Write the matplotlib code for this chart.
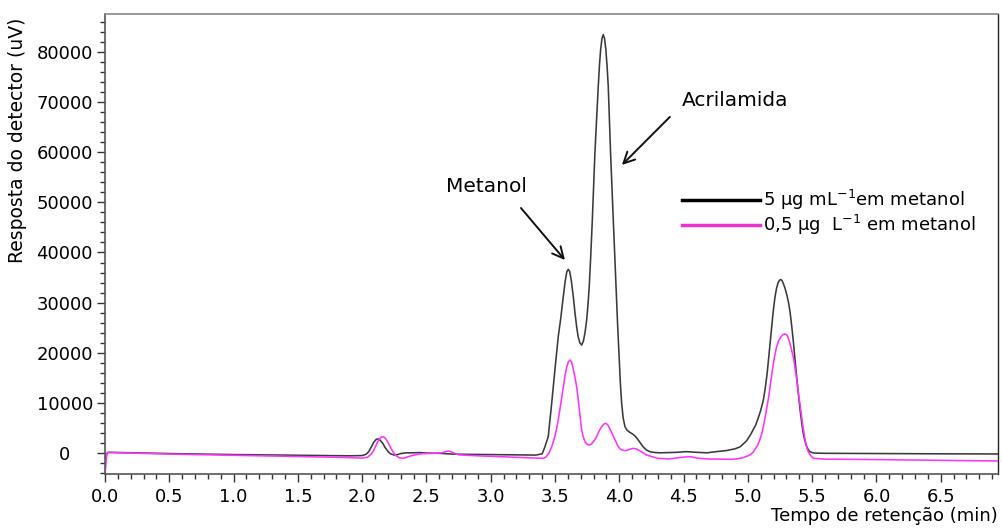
import matplotlib
matplotlib.use("Agg")
import matplotlib.pyplot as plt
from matplotlib.lines import Line2D
from matplotlib.ticker import MultipleLocator

plt.rcParams['font.family'] = ['DejaVu Sans']
plt.rcParams['mathtext.fontset'] = 'dejavusans'
plt.rcParams['mathtext.default'] = 'regular'

# Black trace: 5 µg mL-1 em metanol
t_black = [0.0, 0.02, 0.03, 0.5, 1.0, 1.5, 1.9, 2.0, 2.03, 2.05, 2.07, 2.09, 2.11, 2.125,
           2.14, 2.16, 2.18, 2.20, 2.22, 2.25, 2.27, 2.30, 2.34, 2.40, 2.45, 2.50, 2.60,
           2.70, 2.80, 3.0, 3.2, 3.35, 3.40, 3.42, 3.447, 3.474, 3.499, 3.525, 3.545,
           3.564, 3.58, 3.592, 3.603, 3.614, 3.626, 3.642, 3.655, 3.668, 3.68, 3.693,
           3.707, 3.72, 3.733, 3.746, 3.756, 3.766, 3.778, 3.79, 3.80, 3.81, 3.823,
           3.836, 3.846, 3.855, 3.865, 3.875, 3.885, 3.895, 3.905, 3.914, 3.923, 3.932,
           3.943, 3.953, 3.964, 3.974, 3.986, 3.997, 4.008, 4.018, 4.03, 4.044, 4.06,
           4.08, 4.10, 4.12, 4.14, 4.16, 4.185, 4.21, 4.24, 4.28, 4.32, 4.45, 4.52,
           4.60, 4.68, 4.76, 4.834, 4.90, 4.94, 4.99, 5.02, 5.04, 5.06, 5.08, 5.10,
           5.12, 5.135, 5.15, 5.167, 5.184, 5.197, 5.21, 5.222, 5.235, 5.247, 5.257,
           5.268, 5.28, 5.292, 5.305, 5.316, 5.327, 5.34, 5.355, 5.367, 5.379, 5.392,
           5.405, 5.418, 5.43, 5.443, 5.455, 5.468, 5.482, 5.50, 5.52, 5.6, 6.0, 6.5,
           6.95]
y_black = [-1000, 150, 200, -50, -250, -400, -500, -450, -200, 300, 1200, 2200, 2800, 2850,
           2600, 2000, 1100, 400, -100, -350, -300, -50, 100, 100, 150, 50, 0,
           -150, -200, -250, -300, -350, -100, 1200, 3300, 9960, 16600, 23230, 27000,
           31200, 34500, 36200, 36650, 36200, 34500, 31200, 28000, 25200, 23200, 22000,
           21570, 22300, 24000, 26550, 29500, 33190, 39500, 46470, 53000, 59760, 66500,
           73030, 77500, 80500, 82600, 83400, 82600, 80500, 77000, 73030, 66500, 59760,
           53000, 46470, 39500, 33190, 26000, 19920, 14000, 9960, 7000, 5300, 4600,
           4200, 3900, 3500, 2900, 2200, 1300, 660, 300, 150, 100, 200, 330,
           200, 100, 350, 550, 900, 1300, 2500, 3700, 4640, 5600, 7000, 8600,
           10600, 13000, 16000, 20500, 25200, 28300, 31000, 32800, 34000, 34500, 34600,
           34300, 33500, 32600, 31300, 30000, 28300, 25500, 21800, 18500, 15250, 12000,
           8800, 6200, 4000, 2500, 1500, 800, 330, 150, 50, 0, -50, -100,
           -130]

# Pink trace: 0,5 µg L-1 em metanol
t_pink = [0.0, 0.015, 0.03, 0.5, 1.0, 1.5, 1.83, 2.0, 2.04, 2.07, 2.09, 2.11, 2.13, 2.15,
          2.165, 2.18, 2.20, 2.22, 2.24, 2.26, 2.29, 2.32, 2.38, 2.45, 2.55, 2.62, 2.65,
          2.67, 2.69, 2.71, 2.75, 2.9, 3.1, 3.3, 3.41, 3.43, 3.45, 3.474, 3.49, 3.50,
          3.513, 3.525, 3.545, 3.564, 3.578, 3.59, 3.603, 3.616, 3.628, 3.64, 3.654,
          3.668, 3.68, 3.69, 3.70, 3.707, 3.72, 3.735, 3.75, 3.766, 3.78, 3.795, 3.81,
          3.823, 3.84, 3.86, 3.878, 3.896, 3.912, 3.93, 3.948, 3.966, 3.98, 3.99, 4.005,
          4.018, 4.04, 4.06, 4.085, 4.11, 4.135, 4.16, 4.185, 4.21, 4.3, 4.39, 4.48,
          4.55, 4.62, 4.7, 4.886, 4.96, 5.015, 5.04, 5.06, 5.075, 5.09, 5.105, 5.12,
          5.14, 5.16, 5.175, 5.19, 5.205, 5.223, 5.24, 5.26, 5.277, 5.293, 5.307, 5.32,
          5.335, 5.352, 5.365, 5.378, 5.39, 5.404, 5.417, 5.43, 5.443, 5.456, 5.468,
          5.48, 5.495, 5.51, 5.6, 6.0, 6.5, 6.95]
y_pink = [-4100, 100, 150, -150, -400, -650, -800, -950, -800, -200, 600, 1700, 2700, 3250,
          3300, 3000, 2200, 1200, 300, -400, -900, -1000, -500, -100, 0, 100, 350,
          450, 350, 100, -300, -500, -700, -900, -1000, -700, -100, 1310, 2600, 3500,
          5000, 6630, 10000, 13270, 15500, 17100, 18200, 18590, 18200, 17000, 15300,
          13270, 10800, 8500, 6200, 4640, 3200, 2200, 1800, 1650, 1800, 2200, 2700,
          3300, 4300, 5200, 5800, 5970, 5600, 4700, 3700, 2650, 1900, 1400, 900,
          660, 550, 600, 850, 990, 850, 500, 100, -340, -1000, -1130, -800,
          -670, -1000, -1130, -1200, -900, -340, 200, 1000, 1600, 2500, 3700, 5300,
          8000, 11000, 13800, 16500, 19000, 21200, 22500, 23300, 23700, 23760, 23400, 22500,
          21100, 19250, 17300, 15000, 12500, 9960, 7400, 5000, 3000, 1300, 400,
          -200, -650, -1000, -1150, -1250, -1400, -1530]

labels = ["5 µg mL$^{-1}$em metanol", "0,5 µg  L$^{-1}$ em metanol"]
x_ticks = [0.0, 0.5, 1.0, 1.5, 2.0, 2.5, 3.0, 3.5, 4.0, 4.5, 5.0, 5.5, 6.0, 6.5]
y_ticks = [0, 10000, 20000, 30000, 40000, 50000, 60000, 70000, 80000]

W, H = 1003, 529
fig = plt.figure(figsize=(W / 100, H / 100), dpi=100)
ax = fig.add_axes([105 / W, 1 - 474 / H, (998 - 105) / W, (474 - 14) / H])

ax.plot(t_black, y_black, color='#3a3a3a', lw=1.15)
ax.plot(t_pink, y_pink, color='#ff33ff', lw=1.15)

ax.set_xlim(0, 6.945)
ax.set_ylim(-4120, 87500)
ax.set_xticks(x_ticks)
ax.set_xticklabels([f"{v:.1f}" for v in x_ticks])
ax.set_yticks(y_ticks)
ax.set_yticklabels([str(v) for v in y_ticks])
ax.xaxis.set_minor_locator(MultipleLocator(0.1))
ax.yaxis.set_minor_locator(MultipleLocator(2000))
ax.tick_params(axis='both', which='major', length=6, width=1.0, color='#333333',
               labelsize=13)
ax.tick_params(axis='x', which='major', pad=4)
ax.tick_params(axis='y', which='major', pad=23)
ax.tick_params(axis='both', which='minor', length=3.5, width=1.0, color='#333333')
for lbl in ax.get_yticklabels():
    lbl.set_horizontalalignment('center')

for s in ['left', 'bottom']:
    ax.spines[s].set_color('#555555')
    ax.spines[s].set_linewidth(1.2)
ax.spines['top'].set_color('#888888')
ax.spines['top'].set_linewidth(1.2)
ax.spines['right'].set_color('#222222')
ax.spines['right'].set_linewidth(1.0)

ax.set_ylabel("Resposta do detector (uV)", fontsize=13.5, loc='top')
ax.yaxis.set_label_coords(-78 / 893, 1 - 4 / 460)
ax.set_xlabel("Tempo de retenção (min)", fontsize=13, loc='right', labelpad=1)

arrow = dict(arrowstyle='->,head_length=0.8,head_width=0.4', lw=1.4, color='#111111',
             shrinkA=0, shrinkB=0)
ax.annotate("", xy=(3.577, 38500), xytext=(3.235, 48860), arrowprops=arrow)
ax.text(2.963, 53050, "Metanol", fontsize=14.5, ha='center', va='center')
ax.annotate("", xy=(4.02, 57430), xytext=(4.393, 67000), arrowprops=arrow)
ax.text(4.487, 70370, "Acrilamida", fontsize=14.5, ha='left', va='center')

handles = [Line2D([], [], color='#000000', lw=2.5),
           Line2D([], [], color='#ee33cc', lw=2.5)]
fig.legend(handles, labels, loc='upper left', bbox_to_anchor=(682 / W, 1 - 188 / H),
           bbox_transform=fig.transFigure, frameon=False, fontsize=13,
           handlelength=4.3, handletextpad=0.2, borderpad=0, borderaxespad=0,
           labelspacing=0.05)

fig.savefig("out.png", dpi=100)
